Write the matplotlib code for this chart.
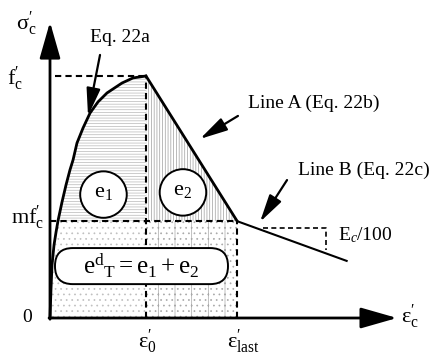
import numpy as np
import matplotlib.pyplot as plt
from matplotlib.patches import Polygon, Ellipse, FancyBboxPatch

plt.rcParams['font.family'] = ['Liberation Serif', 'DejaVu Serif']
plt.rcParams['mathtext.fontset'] = 'custom'
plt.rcParams['mathtext.rm'] = 'Liberation Serif'
plt.rcParams['mathtext.it'] = 'Liberation Serif:italic'
plt.rcParams['hatch.linewidth'] = 0.5

# normalised strain (eps / eps0) and stress (sigma / f'c)
eps_rise = [0.0, 0.010, 0.021, 0.042, 0.063, 0.083, 0.125, 0.167, 0.208,
            0.240, 0.281, 0.344, 0.417, 0.500, 0.594, 0.750, 0.865, 1.0]
sig_rise = [0.0, 0.116, 0.219, 0.302, 0.355, 0.401, 0.479, 0.550, 0.612,
            0.653, 0.723, 0.785, 0.847, 0.893, 0.930, 0.971, 0.992, 1.0]
eps0 = 1.0        # strain at peak
fc = 1.0          # peak stress
m = 0.40          # residual stress ratio
eps_last = 1.95   # end of line A
eps_b_end = 3.09  # end of line B
sig_b_end = 0.236

eps_axis_end = 3.615
sig_axis_end = 1.223

fig = plt.figure(figsize=(4.38, 3.57), dpi=100)
ax = fig.add_axes([0, 0, 1, 1])
ax.set_xlim(-50 / 96, 388 / 96)
ax.set_ylim(-39 / 242, 318 / 242)
ax.axis('off')

mfc = m * fc
eps_r = np.array(eps_rise)
sig_r = np.array(sig_rise)

# where the rising branch crosses m*f'c
eps_m = np.interp(mfc, sig_r, eps_r)
lo = sig_r < mfc
hi = sig_r > mfc

# shaded areas: upper-left, upper-right, lower-left, lower-right
tl = [(eps_m, mfc)] + list(zip(eps_r[hi], sig_r[hi])) + [(eps0, mfc)]
tr = [(eps0, fc), (eps_last, mfc), (eps0, mfc)]
bl = list(zip(eps_r[lo], sig_r[lo])) + [(eps_m, mfc), (eps0, mfc), (eps0, 0)]
br = [(eps0, 0), (eps0, mfc), (eps_last, mfc), (eps_last, 0)]
for pts, hatch, col in [(tl, '------', '0.72'), (tr, '||||||', '0.62'),
                        (bl, '...', '0.75'), (br, '|...', '0.66')]:
    ax.add_patch(Polygon(pts, closed=True, facecolor='white', edgecolor=col,
                         hatch=hatch, linewidth=0, zorder=1))

lw = 2.0
ax.plot(eps_rise, sig_rise, color='k', lw=lw, zorder=3,
        solid_capstyle='round')
ax.plot([eps0, eps_last], [fc, mfc], color='k', lw=lw, zorder=3)
ax.plot([eps_last, eps_b_end], [mfc, sig_b_end], color='k', lw=1.5, zorder=3)

dash = dict(color='k', lw=1.5, ls=(0, (3, 2)), zorder=2)
ax.plot([0.05, eps0], [fc, fc], **dash)
ax.plot([0, eps_last], [mfc, mfc], **dash)
ax.plot([eps0, eps0], [0, fc], **dash)
ax.plot([eps_last, eps_last], [0, mfc], **dash)
# slope triangle for line B
ax.plot([2.22, 2.875, 2.875], [0.372, 0.372, 0.281], color='k', lw=1.2,
        ls=(0, (3, 2)), zorder=2)

# axes with arrow heads
axis_arrow = dict(arrowstyle='-|>,head_length=1.4,head_width=0.4',
                  color='k', lw=2.0, mutation_scale=16, shrinkA=0, shrinkB=0)
ax.annotate('', xy=(0, sig_axis_end), xytext=(0, -0.005),
            arrowprops=axis_arrow, zorder=4)
ax.annotate('', xy=(eps_axis_end, 0), xytext=(-0.01, 0),
            arrowprops=axis_arrow, zorder=4)

# call-out arrows
call = dict(arrowstyle='-|>,head_length=1.4,head_width=0.35', color='k',
            lw=1.6, mutation_scale=12, shrinkA=0, shrinkB=0)
ax.annotate('', xy=(0.396, 0.835), xytext=(0.521, 1.087), arrowprops=call)
ax.annotate('', xy=(1.5625, 0.740), xytext=(1.958, 0.835), arrowprops=call)
ax.annotate('', xy=(2.1875, 0.397), xytext=(2.469, 0.570), arrowprops=call)

# energy circles and total box
for cx, cy in [(0.557, 0.510), (1.385, 0.519)]:
    ax.add_patch(Ellipse((cx, cy), 0.485, 0.192, facecolor='white',
                         edgecolor='k', lw=1.4, zorder=4))
box_h = 0.149
ax.add_patch(FancyBboxPatch((0.052, 0.140), 1.802, box_h,
                            boxstyle='round,pad=0,rounding_size=0.185',
                            mutation_aspect=96 / 242, facecolor='white',
                            edgecolor='k', lw=1.4, zorder=4))

fs = 14
txt = dict(fontsize=fs, ha='center', va='center', zorder=5)
sym = dict(fontsize=16, ha='center', va='center', zorder=5)
ax.text(0.557, 0.517, r'$\mathrm{e_1}$', **sym)
ax.text(1.385, 0.525, r'$\mathrm{e_2}$', **sym)
ax.text(0.948, 0.215, r'$\mathrm{e^d{}_T = e_1 + e_2}$', fontsize=18,
        ha='center', va='center', zorder=5)

ax.text(-0.25, 1.215, r"$\mathrm{\sigma^{\prime}_c}$", **sym)
ax.text(-0.36, 0.99, r"$\mathrm{f^{\prime}_c}$", **sym)
ax.text(-0.23, 0.415, r"$\mathrm{mf^{\prime}_c}$", **sym)
ax.text(-0.24, 0.0, '0', **txt)
ax.text(1.01, -0.096, r"$\mathrm{\epsilon^{\prime}_0}$", **sym)
ax.text(2.02, -0.096, r"$\mathrm{\epsilon^{\prime}_{last}}$", **sym)
ax.text(3.75, 0.005, r"$\mathrm{\epsilon^{\prime}_c}$", **sym)

ax.text(0.729, 1.161, 'Eq. 22a', **txt)
ax.text(2.75, 0.888, 'Line A (Eq. 22b)', **txt)
ax.text(3.27, 0.612, 'Line B (Eq. 22c)', **txt)
ax.text(3.28, 0.343, r'$\mathrm{E_{\it c}}$/100', **txt)

fig.savefig('out.png', dpi=100)
